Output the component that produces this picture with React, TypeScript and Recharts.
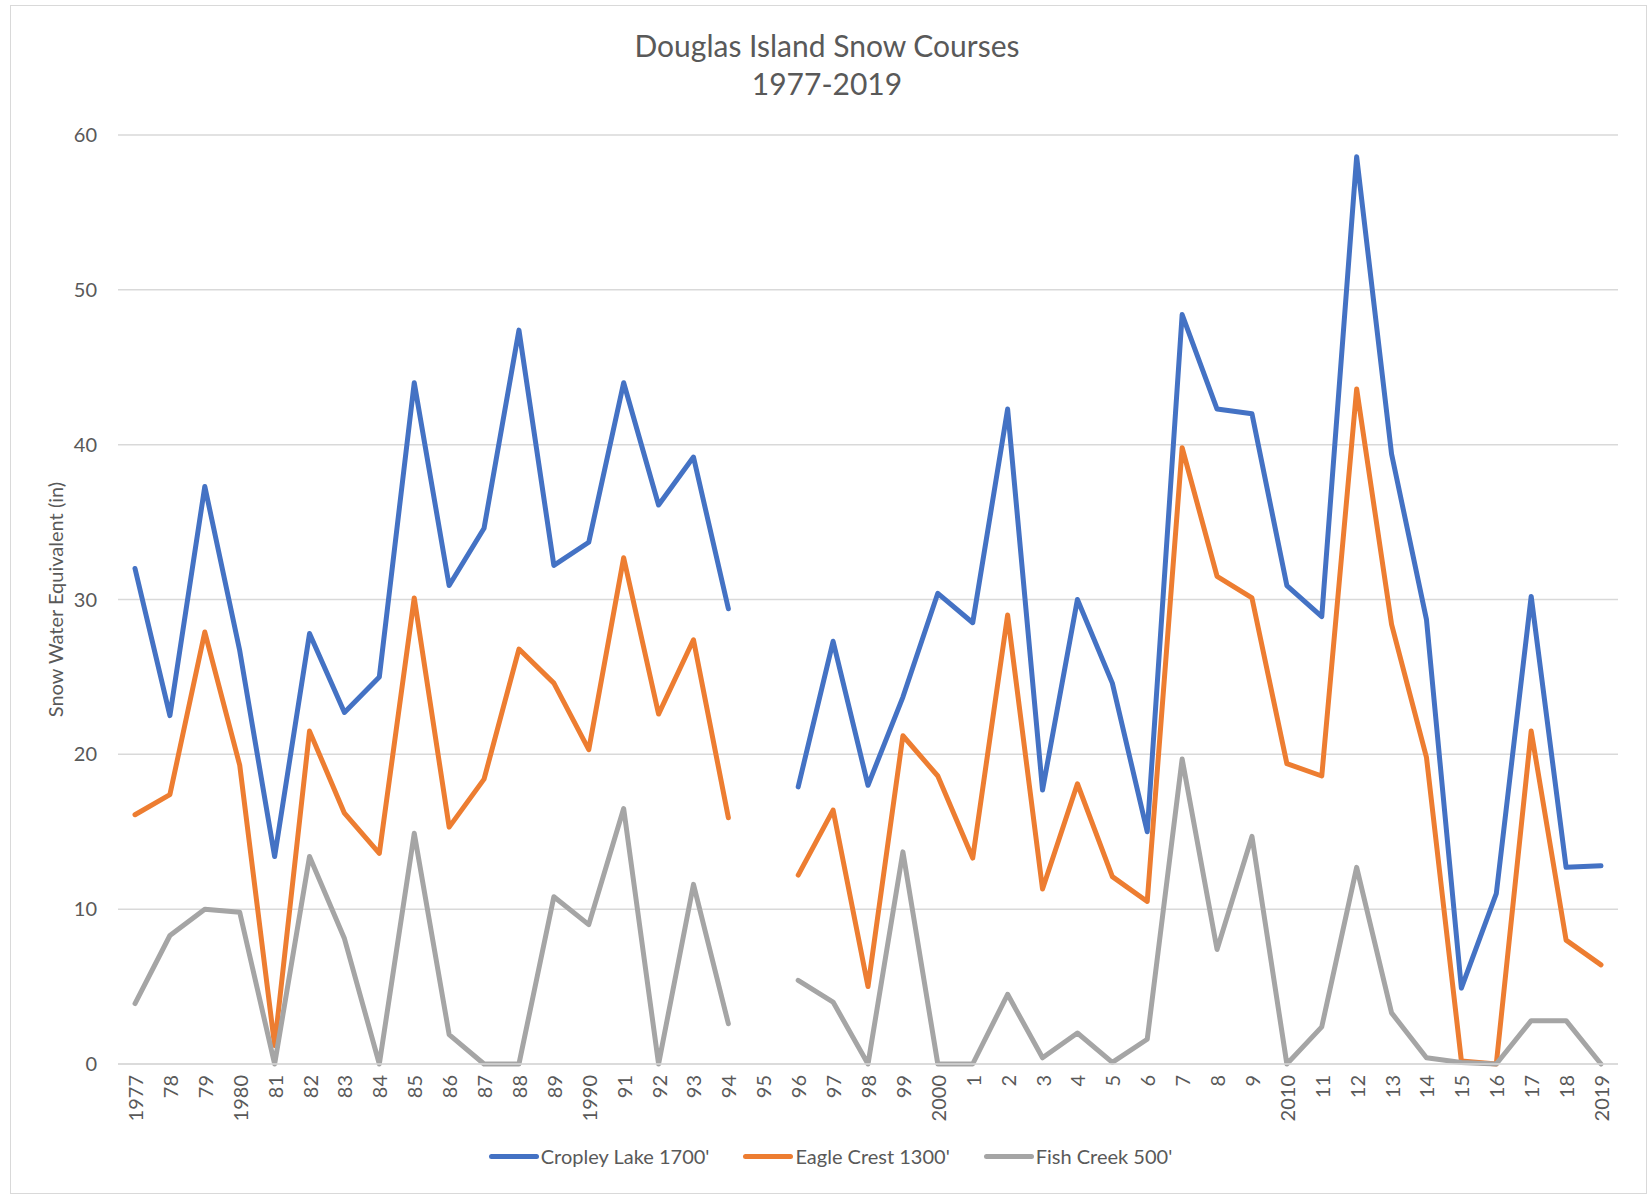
import { LineChart, Line, XAxis, YAxis, CartesianGrid, Legend, Label } from 'recharts';

const years = ['1977', '78', '79', '1980', '81', '82', '83', '84', '85', '86', '87', '88', '89', '1990', '91', '92', '93', '94', '95', '96', '97', '98', '99', '2000', '1', '2', '3', '4', '5', '6', '7', '8', '9', '2010', '11', '12', '13', '14', '15', '16', '17', '18', '2019'];

const cropley = [32.0, 22.5, 37.3, 26.7, 13.4, 27.8, 22.7, 25.0, 44.0, 30.9, 34.6, 47.4, 32.2, 33.7, 44.0, 36.1, 39.2, 29.4, null, 17.9, 27.3, 18.0, 23.7, 30.4, 28.5, 42.3, 17.7, 30.0, 24.6, 15.0, 48.4, 42.3, 42.0, 30.9, 28.9, 58.6, 39.4, 28.7, 4.9, 11.0, 30.2, 12.7, 12.8];
const eagle = [16.1, 17.4, 27.9, 19.3, 1.2, 21.5, 16.2, 13.6, 30.1, 15.3, 18.4, 26.8, 24.6, 20.3, 32.7, 22.6, 27.4, 15.9, null, 12.2, 16.4, 5.0, 21.2, 18.6, 13.3, 29.0, 11.3, 18.1, 12.1, 10.5, 39.8, 31.5, 30.1, 19.4, 18.6, 43.6, 28.4, 19.8, 0.2, 0.0, 21.5, 8.0, 6.4];
const fish = [3.9, 8.3, 10.0, 9.8, 0.0, 13.4, 8.1, 0.0, 14.9, 1.9, 0.0, 0.0, 10.8, 9.0, 16.5, 0.0, 11.6, 2.6, null, 5.4, 4.0, 0.0, 13.7, 0.0, 0.0, 4.5, 0.4, 2.0, 0.1, 1.6, 19.7, 7.4, 14.7, 0.0, 2.4, 12.7, 3.3, 0.4, 0.1, 0.0, 2.8, 2.8, 0.0];

const yTicks = [0, 10, 20, 30, 40, 50, 60];

const seriesInfo = [
  { key: 'cropley', name: "Cropley Lake 1700'", color: '#4472C4' },
  { key: 'eagle', name: "Eagle Crest 1300'", color: '#ED7D31' },
  { key: 'fish', name: "Fish Creek 500'", color: '#A5A5A5' },
];

const data = years.map((year, i) => ({
  year,
  cropley: cropley[i],
  eagle: eagle[i],
  fish: fish[i],
}));

const FONT = 'Lato, "Open Sans", sans-serif';
const TEXT = '#595959';

// rotated year labels under the axis
const YearTick = (props: any) => {
  const { x, y, payload } = props;
  return (
    <g transform={`translate(${x},${y})`}>
      <text
        transform="rotate(-90)"
        textAnchor="end"
        dominantBaseline="central"
        fill={TEXT}
        fontSize={20}
        fontFamily={FONT}
      >
        {payload.value}
      </text>
    </g>
  );
};

const renderLegend = () => (
  <div style={{ display: 'flex', justifyContent: 'center', alignItems: 'center', fontFamily: FONT, fontSize: 20, color: TEXT }}>
    {seriesInfo.map((s, i) => (
      <div key={s.key} style={{ display: 'flex', alignItems: 'center', marginLeft: i === 0 ? 0 : 34 }}>
        <div style={{ width: 50, height: 5, borderRadius: 3, background: s.color, marginRight: 2 }} />
        <span>{s.name}</span>
      </div>
    ))}
  </div>
);

export default function App() {
  return (
    <div style={{ position: 'absolute', left: 0, top: 0, width: 1649, height: 1198, background: '#fff' }}>
      <div style={{ position: 'absolute', left: 10, top: 5, width: 1635, height: 1187, border: '1px solid #D9D9D9' }} />
      <div style={{ position: 'absolute', left: 0, width: 1654, top: 26, textAlign: 'center', fontFamily: FONT, fontSize: 30, color: TEXT, lineHeight: '38px' }}>
        <div>Douglas Island Snow Courses</div>
        <div>1977-2019</div>
      </div>
      <LineChart
        width={1649}
        height={1198}
        data={data}
        margin={{ top: 135, right: 31, left: 0, bottom: 0 }}
        style={{ position: 'absolute', left: 0, top: 0 }}
      >
        <CartesianGrid vertical={false} stroke="#D9D9D9" strokeWidth={1.5} />
        <XAxis
          dataKey="year"
          interval={0}
          height={134}
          padding={{ left: 17, right: 17 }}
          tickLine={false}
          axisLine={{ stroke: '#D9D9D9', strokeWidth: 1.5 }}
          tickMargin={5}
          tick={<YearTick />}
        />
        <YAxis
          width={118}
          domain={[0, 60]}
          ticks={yTicks}
          axisLine={false}
          tickLine={false}
          tickMargin={15}
          tick={{ fill: TEXT, fontSize: 20, fontFamily: FONT }}
        >
          <Label
            content={(props: any) => {
              const vb = props.viewBox;
              const cx = vb.x + 55;
              const cy = vb.y + vb.height / 2;
              return (
                <text
                  x={cx}
                  y={cy}
                  transform={`rotate(-90, ${cx}, ${cy})`}
                  textAnchor="middle"
                  dominantBaseline="central"
                  fill={TEXT}
                  fontSize={20}
                  fontFamily={FONT}
                >
                  Snow Water Equivalent (in)
                </text>
              );
            }}
          />
        </YAxis>
        <Legend
          layout="horizontal"
          verticalAlign="middle"
          align="center"
          content={renderLegend}
          wrapperStyle={{ left: 6, top: 1144, width: 1649, height: 28 }}
        />
        {seriesInfo.map((s) => (
          <Line
            key={s.key}
            type="linear"
            dataKey={s.key}
            name={s.name}
            stroke={s.color}
            strokeWidth={5}
            strokeLinejoin="round"
            strokeLinecap="round"
            dot={false}
            activeDot={false}
            isAnimationActive={false}
          />
        ))}
      </LineChart>
    </div>
  );
}
